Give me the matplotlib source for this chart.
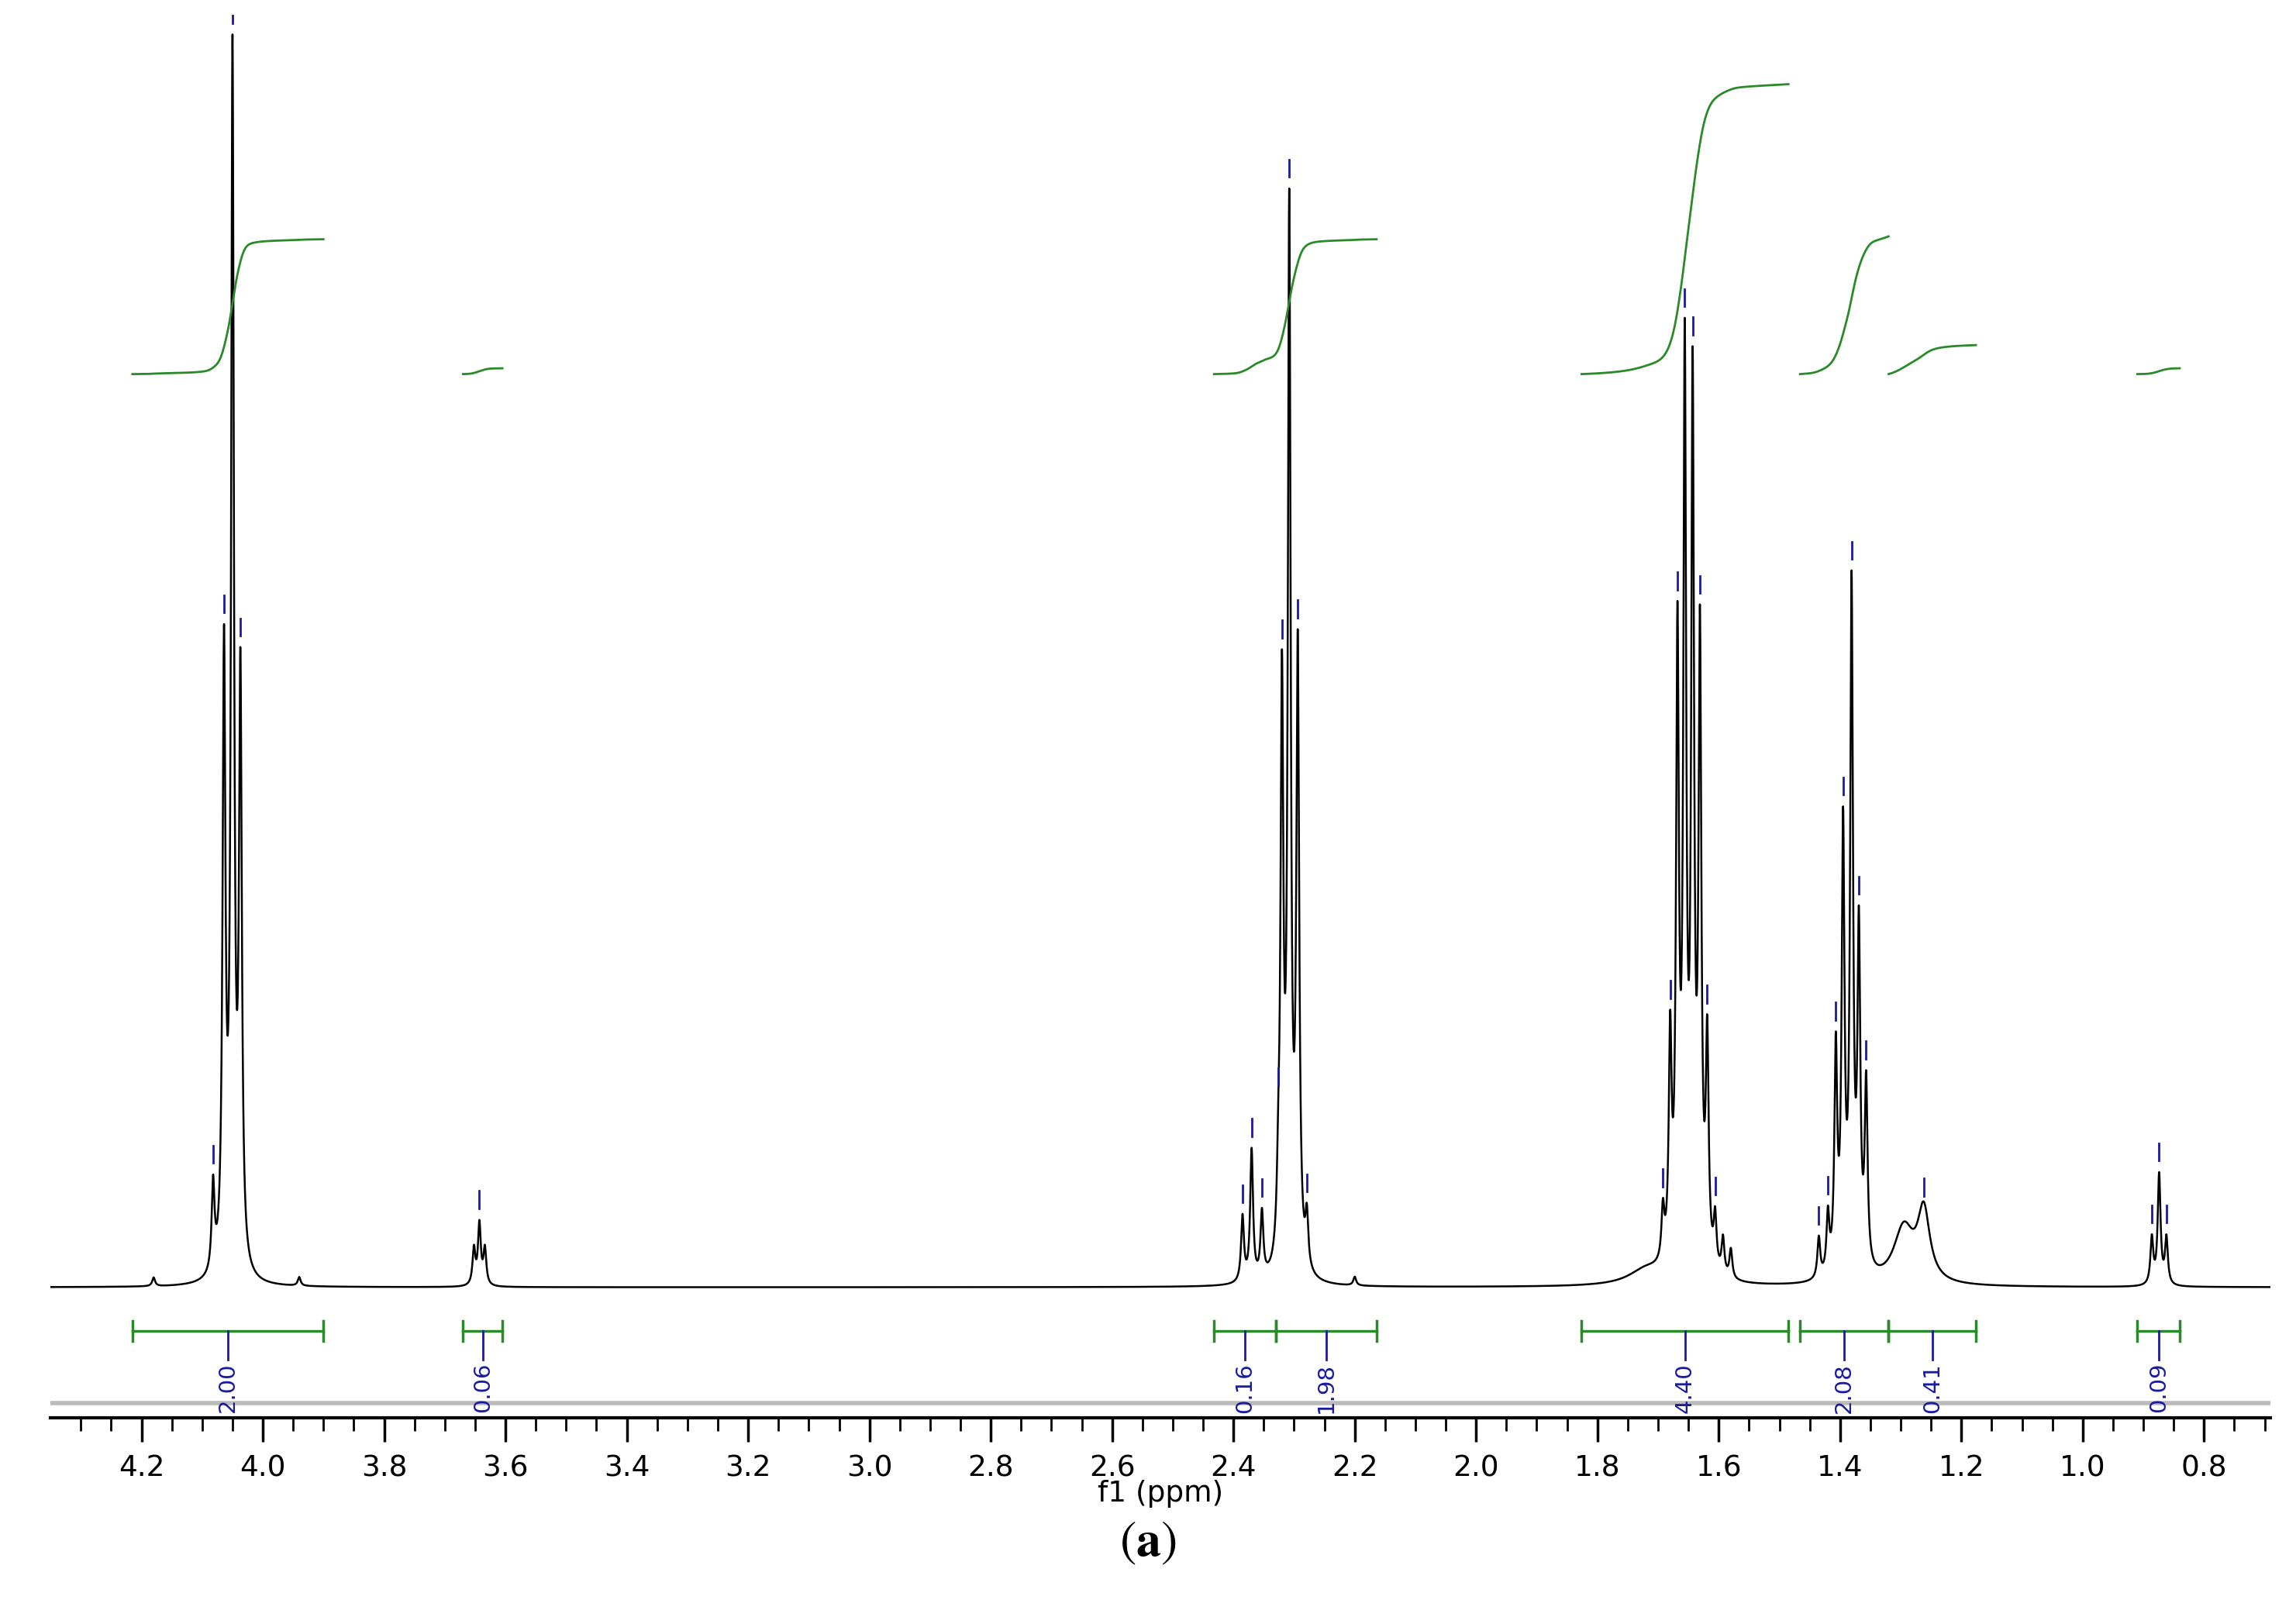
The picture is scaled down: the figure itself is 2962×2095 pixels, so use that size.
import numpy as np
import matplotlib
matplotlib.use("Agg")
import matplotlib.pyplot as plt

plt.rcParams["mathtext.fontset"] = "stix"

# peak list: position (ppm), height (arb.), width (ppm)
peak_ppm = [4.082, 4.064, 4.050, 4.037, 4.18, 3.94,
            3.652, 3.643, 3.634,
            2.385, 2.370, 2.353, 2.326, 2.320, 2.308, 2.294, 2.279, 2.20,
            1.692, 1.680, 1.668, 1.656, 1.643, 1.631, 1.619, 1.606, 1.593, 1.58, 1.72,
            1.435, 1.420, 1.407, 1.395, 1.381, 1.369, 1.357,
            1.295, 1.262,
            0.886, 0.874, 0.862]
peak_h = [60, 420, 830, 400, 6, 6,
          25, 42, 25,
          45, 90, 45, 40, 390, 720, 420, 35, 6,
          35, 150, 420, 610, 590, 420, 150, 35, 25, 20, 10,
          28, 40, 150, 300, 465, 225, 125,
          38, 48,
          32, 76, 32]
peak_w = [0.0028]*41
peak_w[36] = 0.02; peak_w[37] = 0.012; peak_w[28] = 0.035
picked = [0, 1, 2, 3, 7, 9, 10, 11, 12, 13, 14, 15, 16,
          18, 19, 20, 21, 22, 23, 24, 25, 29, 30, 31, 32, 33, 34, 35, 37, 38, 39, 40]

# integral bars: start ppm, end ppm, label
int_start = [4.215, 3.67, 2.432, 2.33, 1.826, 1.466, 1.32, 0.91]
int_end = [3.90, 3.605, 2.33, 2.164, 1.485, 1.32, 1.176, 0.84]
int_labels = ["2.00", "0.06", "0.16", "1.98", "4.40", "2.08", "0.41", "0.09"]
# integral curves: start ppm, end ppm, rise
curve_start = [4.215, 3.67, 2.432, 1.826, 1.466, 1.32, 0.91]
curve_end = [3.90, 3.605, 2.164, 1.485, 1.32, 1.176, 0.84]
curve_rise = [93, 4, 93, 200, 95, 20, 4]

x = np.linspace(4.35, 0.69, 30000)
base = 90
y = np.full_like(x, base, dtype=float)
for p, h, w in zip(peak_ppm, peak_h, peak_w):
    y += h / (1 + ((x - p) / w) ** 2)

fig = plt.figure(figsize=(29.62, 20.95), dpi=100)
ax = fig.add_axes([0.022, 0.127, 0.967, 0.864])
ax.plot(x, y, color="black", lw=1.8)

for i in picked:
    p = peak_ppm[i]
    yt = np.interp(p, x[::-1], y[::-1]) + (8 if peak_w[i] < 0.01 else 4)
    ax.plot([p, p], [yt, yt + 12], color="#1a1aa0", lw=2)

ker = np.exp(-0.5 * (np.arange(-200, 201) / 45.0) ** 2)
ker /= ker.sum()
ysm = np.convolve(y - base, ker, mode="same")
for a, b, rise in zip(curve_start, curve_end, curve_rise):
    m = (x <= a) & (x >= b)
    c = np.cumsum(ysm[m])
    c = c / c[-1] * rise
    ax.plot(x[m], 720 + c, color="#2a8a2a", lw=2)

for a, b, lab in zip(int_start, int_end, int_labels):
    ax.plot([a, b], [60, 60], color="#2a8a2a", lw=2.5)
    for e in (a, b):
        ax.plot([e, e], [53, 67], color="#2a8a2a", lw=2.5)
    mid = (a + b) / 2
    ax.plot([mid, mid], [60, 40], color="#1a1aa0", lw=2)
    ax.text(mid, 38, lab, rotation=90, ha="center", va="top", color="#1a1aa0", fontsize=21)

ax.axhline(10, color="#bbbbbb", lw=4)
ax.set_xlim(4.35, 0.69)
ax.set_ylim(0, 968)
for s in ["top", "left", "right"]:
    ax.spines[s].set_visible(False)
ax.spines["bottom"].set_linewidth(3)
ax.set_yticks([])
ticks = np.arange(0.8, 4.21, 0.2)
ax.set_xticks(ticks)
ax.set_xticks(np.arange(0.7, 4.35, 0.05), minor=True)
ax.tick_params(axis="x", which="major", length=22, width=2.5, labelsize=27, pad=12)
ax.tick_params(axis="x", which="minor", length=12, width=2)
ax.set_xticklabels([f"{v:.1f}" for v in ticks])
ax.set_xlabel("f1 (ppm)", fontsize=27, labelpad=-2)
fig.text(0.5, 0.05, r"$(\mathbf{a})$", ha="center", va="center", fontsize=46)
fig.savefig("out.png", dpi=100, facecolor="white")
